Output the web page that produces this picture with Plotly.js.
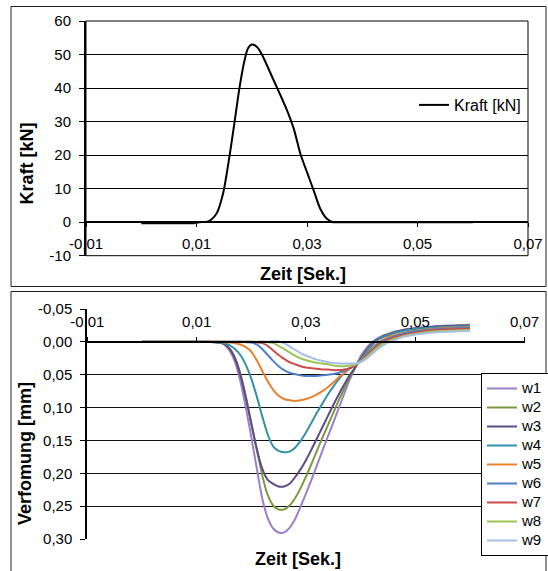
<!DOCTYPE html>
<html>
<head>
<meta charset="utf-8">
<script src="https://cdn.plot.ly/plotly-3.0.1.min.js"></script>
<style>
  html, body { margin: 0; padding: 0; background: #fff; }
  #chart { width: 548px; height: 571px; }
</style>
</head>
<body>
<div id="chart"></div>
<script>
// ---------------- DATA ----------------
// Top panel: force over time
const kraftTime = [0, 0.002, 0.004, 0.006, 0.008, 0.0096, 0.0105, 0.0121, 0.0136, 0.0148, 0.0160, 0.0169, 0.0178, 0.0187, 0.0193, 0.0200, 0.0210, 0.0219, 0.0237, 0.0252, 0.0264, 0.0276, 0.0288, 0.0300, 0.0312, 0.0324, 0.0336, 0.0347, 0.0360, 0.0400, 0.0450, 0.0500, 0.0550, 0.0600];
const kraft = [-0.3, -0.3, -0.3, -0.3, -0.3, -0.3, 0, 0.2, 2.5, 8.5, 20, 30, 40.3, 48.3, 51.8, 53, 52.2, 49.8, 43.3, 37.8, 33.3, 27.9, 20.4, 14.9, 9.5, 4, 1, 0, 0, 0, 0, 0, 0, 0];

// Bottom panel: deflection over time
const zeit = [0, 0.005, 0.010, 0.012, 0.014, 0.015, 0.016, 0.017, 0.018, 0.019, 0.020, 0.021, 0.022, 0.023, 0.024, 0.025, 0.026, 0.027, 0.028, 0.029, 0.030, 0.031, 0.032, 0.033, 0.034, 0.035, 0.036, 0.037, 0.038, 0.039, 0.040, 0.041, 0.042, 0.043, 0.044, 0.045, 0.046, 0.048, 0.050, 0.052, 0.054, 0.056, 0.058, 0.060];
const w1 = [0, 0, 0, 0, 0.001, 0.004, 0.013, 0.030, 0.060, 0.100, 0.145, 0.192, 0.238, 0.268, 0.284, 0.290, 0.290, 0.283, 0.270, 0.251, 0.231, 0.210, 0.188, 0.166, 0.144, 0.123, 0.101, 0.079, 0.058, 0.040, 0.022, 0.010, 0.001, -0.005, -0.009, -0.012, -0.015, -0.019, -0.021, -0.0225, -0.024, -0.025, -0.0255, -0.026];
const w2 = [0, 0, 0, 0, 0.001, 0.003, 0.010, 0.024, 0.048, 0.083, 0.123, 0.163, 0.203, 0.233, 0.249, 0.255, 0.255, 0.249, 0.238, 0.223, 0.205, 0.186, 0.166, 0.146, 0.127, 0.108, 0.089, 0.071, 0.054, 0.039, 0.025, 0.013, 0.004, -0.003, -0.008, -0.011, -0.014, -0.018, -0.020, -0.022, -0.023, -0.024, -0.0245, -0.025];
const w3 = [0, 0, 0, 0, 0.001, 0.003, 0.010, 0.025, 0.050, 0.085, 0.125, 0.163, 0.193, 0.210, 0.216, 0.220, 0.220, 0.216, 0.206, 0.194, 0.180, 0.164, 0.147, 0.130, 0.113, 0.096, 0.080, 0.065, 0.051, 0.039, 0.026, 0.014, 0.004, -0.003, -0.008, -0.011, -0.014, -0.018, -0.0205, -0.022, -0.0235, -0.024, -0.0245, -0.025];
const w4 = [0, 0, 0, 0, 0.001, 0.002, 0.005, 0.011, 0.020, 0.035, 0.056, 0.083, 0.113, 0.141, 0.159, 0.166, 0.168, 0.167, 0.161, 0.151, 0.138, 0.123, 0.108, 0.094, 0.080, 0.068, 0.057, 0.048, 0.041, 0.035, 0.028, 0.016, 0.006, -0.002, -0.007, -0.010, -0.013, -0.017, -0.0195, -0.021, -0.022, -0.023, -0.0235, -0.024];
const w5 = [0, 0, 0, 0, 0, 0.0005, 0.001, 0.002, 0.004, 0.008, 0.015, 0.028, 0.044, 0.060, 0.073, 0.082, 0.087, 0.089, 0.090, 0.089, 0.087, 0.084, 0.080, 0.075, 0.069, 0.062, 0.054, 0.047, 0.041, 0.035, 0.029, 0.019, 0.010, 0.003, -0.003, -0.007, -0.010, -0.014, -0.017, -0.019, -0.0205, -0.0215, -0.022, -0.0225];
const w6 = [0, 0, 0, 0, 0, 0, 0, 0, 0, 0.0005, 0.001, 0.004, 0.011, 0.020, 0.029, 0.037, 0.043, 0.047, 0.049, 0.051, 0.052, 0.052, 0.052, 0.051, 0.050, 0.049, 0.047, 0.044, 0.040, 0.035, 0.029, 0.020, 0.012, 0.005, -0.001, -0.005, -0.008, -0.013, -0.016, -0.018, -0.0195, -0.0205, -0.021, -0.0215];
const w7 = [0, 0, 0, 0, 0, 0, 0, 0, 0, 0, 0, 0.0005, 0.002, 0.006, 0.013, 0.020, 0.026, 0.031, 0.034, 0.037, 0.039, 0.040, 0.041, 0.042, 0.042, 0.043, 0.043, 0.042, 0.040, 0.036, 0.030, 0.022, 0.014, 0.007, 0.001, -0.003, -0.006, -0.011, -0.014, -0.0165, -0.018, -0.019, -0.0195, -0.020];
const w8 = [0, 0, 0, 0, 0, 0, 0, 0, 0, 0, 0, 0, -0.0005, 0.0005, 0.002, 0.006, 0.011, 0.016, 0.021, 0.025, 0.028, 0.030, 0.032, 0.033, 0.034, 0.036, 0.037, 0.037, 0.036, 0.035, 0.030, 0.024, 0.016, 0.009, 0.003, -0.001, -0.004, -0.009, -0.012, -0.0145, -0.016, -0.017, -0.0175, -0.018];
const w9 = [0, 0, 0, 0, 0, 0, 0, 0, 0, 0, 0, 0, 0, -0.0005, -0.001, -0.001, 0.002, 0.007, 0.012, 0.017, 0.021, 0.024, 0.027, 0.029, 0.031, 0.032, 0.033, 0.033, 0.033, 0.033, 0.031, 0.026, 0.019, 0.012, 0.006, 0.001, -0.002, -0.008, -0.011, -0.013, -0.0145, -0.0155, -0.016, -0.0165];

const seriesNames = ['w1', 'w2', 'w3', 'w4', 'w5', 'w6', 'w7', 'w8', 'w9'];
const seriesValues = [w1, w2, w3, w4, w5, w6, w7, w8, w9];

// Tick labels
const zeitTickVals = [-0.01, 0.01, 0.03, 0.05, 0.07];
const zeitTickText = ['-0,01', '0,01', '0,03', '0,05', '0,07'];
const kraftTickVals = [-10, 0, 10, 20, 30, 40, 50, 60];
const kraftTickText = ['-10', '0', '10', '20', '30', '40', '50', '60'];
const verfTickVals = [-0.05, 0, 0.05, 0.10, 0.15, 0.20, 0.25, 0.30];
const verfTickText = ['-0,05', '0,00', '0,05', '0,10', '0,15', '0,20', '0,25', '0,30'];

// ---------------- STYLE ----------------
const colors = ['#9A80CB', '#7A9B3E', '#5E4A86', '#3391A8', '#E8822E', '#4F81C9', '#CF4B4B', '#9DC453', '#A7BFE2'];
const W = 548, H = 571;
const FONT = 'Liberation Sans, Arial, Helvetica, sans-serif';
const fx = p => p / W;
const fy = p => 1 - p / H;

// top plot area (pixels)
const topX = [fx(86), fx(528)];
const topY = [fy(255.7), fy(21)];
const topRange = [-10, 60];
const topXPos = topY[0] + (0 - topRange[0]) / (topRange[1] - topRange[0]) * (topY[1] - topY[0]);

// bottom plot area (pixels)
const botX = [fx(87.3), fx(524.6)];
const botY = [fy(539), fy(309)];
const botRange = [0.30, -0.05];
const botXPos = botY[0] + (0 - botRange[0]) / (botRange[1] - botRange[0]) * (botY[1] - botY[0]);

const traces = [{
  x: kraftTime, y: kraft, type: 'scatter', mode: 'lines',
  name: 'Kraft [kN]', xaxis: 'x', yaxis: 'y', legend: 'legend',
  line: { color: '#000', width: 2, shape: 'spline', smoothing: 0.8 }
}];
seriesNames.forEach((n, i) => {
  traces.push({
    x: zeit, y: seriesValues[i], type: 'scatter', mode: 'lines',
    name: '<span style="font-size:15px">' + n + '</span>', xaxis: 'x2', yaxis: 'y2', legend: 'legend2',
    line: { color: colors[i], width: 2, shape: 'spline', smoothing: 0.8 }
  });
});

const tickFont = { family: FONT, size: 15, color: '#000' };
const titleFont = { family: FONT, size: 18, color: '#000', weight: 'bold' };

const layout = {
  width: W, height: H,
  margin: { l: 0, r: 0, t: 0, b: 0, pad: 0, autoexpand: false },
  paper_bgcolor: '#fff', plot_bgcolor: '#fff',
  font: { family: FONT, size: 15, color: '#000' },
  showlegend: true,
  xaxis: {
    domain: topX, range: [-0.01, 0.07], anchor: 'free', position: topXPos, side: 'bottom',
    tickvals: zeitTickVals, ticktext: zeitTickText, ticks: 'outside', ticklen: 4, tickwidth: 1, tickcolor: '#000',
    showline: true, linecolor: '#000', linewidth: 2, showgrid: false, zeroline: false,
    tickfont: tickFont, ticklabelstandoff: 4, fixedrange: true
  },
  yaxis: {
    domain: topY, range: topRange, anchor: 'x',
    tickvals: kraftTickVals, ticktext: kraftTickText, ticks: 'outside', ticklen: 5, tickwidth: 1, tickcolor: '#000',
    showline: true, linecolor: '#000', linewidth: 2, showgrid: true, gridcolor: '#000', gridwidth: 1,
    zeroline: false, tickfont: tickFont, ticklabelstandoff: 5, fixedrange: true
  },
  xaxis2: {
    domain: botX, range: [-0.01, 0.07], anchor: 'free', position: botXPos, side: 'top',
    tickvals: zeitTickVals, ticktext: zeitTickText, ticks: 'outside', ticklen: 4, tickwidth: 1, tickcolor: '#000',
    showline: true, linecolor: '#000', linewidth: 2, showgrid: false, zeroline: false,
    tickfont: tickFont, ticklabelstandoff: 4, fixedrange: true
  },
  yaxis2: {
    domain: botY, range: botRange, anchor: 'x2', autorange: false,
    tickvals: verfTickVals, ticktext: verfTickText, ticks: 'outside', ticklen: 5, tickwidth: 1, tickcolor: '#000',
    showline: true, linecolor: '#000', linewidth: 2, showgrid: true, gridcolor: '#111', gridwidth: 1,
    zeroline: false, tickfont: tickFont, ticklabelstandoff: 5, fixedrange: true
  },
  legend: {
    x: fx(414), y: fy(105), xanchor: 'left', yanchor: 'middle',
    bgcolor: 'rgba(255,255,255,0)', borderwidth: 0,
    font: { family: FONT, size: 16, color: '#000' }, itemwidth: 30
  },
  legend2: {
    x: fx(481), y: fy(373), xanchor: 'left', yanchor: 'top',
    bgcolor: '#fff', bordercolor: '#000', borderwidth: 1,
    font: { family: FONT, size: 11.5, color: '#000' }, itemwidth: 30, tracegroupgap: 0
  },
  shapes: [
    { type: 'rect', xref: 'paper', yref: 'paper', x0: fx(11), x1: fx(546), y0: fy(286.5), y1: fy(6.5),
      line: { color: '#222', width: 1 }, layer: 'below' },
    { type: 'rect', xref: 'paper', yref: 'paper', x0: fx(11), x1: fx(546), y0: fy(580), y1: fy(291.5),
      line: { color: '#222', width: 1 }, layer: 'below' },
    { type: 'rect', xref: 'x domain', yref: 'y domain', x0: 0, x1: 1, y0: 0, y1: 1,
      line: { color: '#000', width: 1 } }
  ],
  annotations: [
    { text: 'Zeit [Sek.]', xref: 'paper', yref: 'paper', x: fx(302.5), y: fy(274), xanchor: 'center', yanchor: 'middle', showarrow: false, font: titleFont },
    { text: 'Kraft [kN]', xref: 'paper', yref: 'paper', x: fx(26.5), y: fy(164), xanchor: 'center', yanchor: 'middle', textangle: -90, showarrow: false, font: titleFont },
    { text: 'Zeit [Sek.]', xref: 'paper', yref: 'paper', x: fx(298), y: fy(559), xanchor: 'center', yanchor: 'middle', showarrow: false, font: titleFont },
    { text: 'Verfomung [mm]', xref: 'paper', yref: 'paper', x: fx(25), y: fy(454), xanchor: 'center', yanchor: 'middle', textangle: -90, showarrow: false, font: titleFont }
  ]
};

Plotly.newPlot('chart', traces, layout, { displayModeBar: false, staticPlot: true });
</script>
</body>
</html>
